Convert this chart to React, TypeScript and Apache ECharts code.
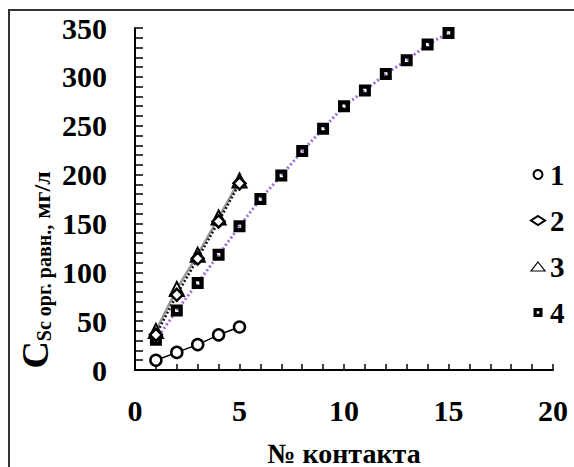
import React, { useEffect, useRef } from "react";
import * as echarts from "echarts";

const xValues = [1, 2, 3, 4, 5, 6, 7, 8, 9, 10, 11, 12, 13, 14, 15];
const series1 = [10, 18, 26, 36, 44];
const series2 = [36, 77, 114, 152, 191];
const series3 = [40, 83, 118, 156, 194];
const series4 = [31, 61, 89, 118, 147, 175, 199, 224, 247, 270, 286, 303, 317, 333, 345];
const legendNames = ["1", "2", "3", "4"];

const FONT = "'Liberation Serif', 'Times New Roman', serif";
const SQUARE = "path://M0,0 H10 V10 H0 Z M3.6,3.6 V6.4 H6.4 V3.6 Z";

function pairs(vals: number[]) {
  return vals.map((v, i) => [xValues[i], v]);
}

export default function App() {
  const ref = useRef<HTMLDivElement>(null);
  useEffect(() => {
    if (!ref.current) return;
    const chart = echarts.init(ref.current, null, { renderer: "svg" });
    chart.setOption({
      animation: false,
      backgroundColor: "#fff",
      grid: { left: 135, right: 21, top: 28, bottom: 97, containLabel: false, outerBoundsMode: "none" },
      graphic: [
        {
          type: "rect",
          shape: { x: 9, y: 10, width: 620, height: 520 },
          style: { fill: "none", stroke: "#333", lineWidth: 2 },
          silent: true,
        },
        {
          type: "text",
          x: 35,
          y: 270,
          rotation: Math.PI / 2,
          style: {
            text: "{c|C}{s|Sc орг. равн.,}{u| мг/л}",
            align: "center",
            verticalAlign: "middle",
            fill: "#000",
            rich: {
              c: { fontSize: 38, fontWeight: "bold", fontFamily: FONT, fill: "#000", verticalAlign: "bottom", lineHeight: 38 },
              s: { fontSize: 20, fontWeight: "bold", fontFamily: FONT, fill: "#000", verticalAlign: "bottom", lineHeight: 19 },
              u: { fontSize: 24, fontWeight: "bold", fontFamily: FONT, fill: "#000", verticalAlign: "bottom", lineHeight: 27 },
            },
          },
        },
      ],
      legend: {
        orient: "vertical",
        left: 525,
        top: 155,
        itemWidth: 14,
        itemHeight: 9,
        itemGap: 17,
        textStyle: { fontFamily: FONT, fontSize: 29, fontWeight: "bold", color: "#000" },
        data: [
          { name: "1", icon: "circle", itemStyle: { color: "#fff", borderColor: "#000", borderWidth: 2 } },
          { name: "2", icon: "diamond", itemStyle: { color: "#fff", borderColor: "#000", borderWidth: 2 } },
          { name: "3", icon: "triangle", itemStyle: { color: "#fff", borderColor: "#000", borderWidth: 1.2 } },
          { name: "4", icon: SQUARE, itemStyle: { color: "#000", borderWidth: 0 } },
        ],
      },
      xAxis: {
        type: "value",
        min: 0,
        max: 20,
        interval: 5,
        name: "№ контакта",
        nameLocation: "middle",
        nameGap: 72,
        nameTextStyle: { fontFamily: FONT, fontSize: 28, lineHeight: 22, fontWeight: "bold", color: "#000" },
        axisLine: { show: true, lineStyle: { color: "#000", width: 2 } },
        axisTick: { show: true, inside: true, length: 6, lineStyle: { color: "#000", width: 1.5 } },
        minorTick: { show: true, splitNumber: 5, length: 6, lineStyle: { color: "#000", width: 1.5 } },
        splitLine: { show: false },
        axisLabel: { margin: 25, fontFamily: FONT, fontSize: 30, fontWeight: "bold", color: "#000" },
      },
      yAxis: {
        type: "value",
        min: 0,
        max: 350,
        interval: 50,
        axisLine: { show: true, lineStyle: { color: "#000", width: 2 } },
        axisTick: { show: true, inside: true, length: 8, lineStyle: { color: "#000", width: 1.5 } },
        minorTick: { show: true, splitNumber: 5, length: 8, lineStyle: { color: "#000", width: 1.5 } },
        splitLine: { show: false },
        axisLabel: { margin: 28, fontFamily: FONT, fontSize: 30, fontWeight: "bold", color: "#000" },
      },
      series: [
        {
          name: legendNames[0],
          type: "line",
          data: pairs(series1),
          symbol: "circle",
          symbolSize: 11,
          itemStyle: { color: "#fff", borderColor: "#000", borderWidth: 2.5 },
          lineStyle: { color: "#000", width: 1.5, type: "solid" },
          z: 5,
        },
        {
          name: legendNames[2],
          type: "line",
          data: pairs(series3),
          symbol: "triangle",
          symbolSize: 14,
          itemStyle: { color: "#fff", borderColor: "#000", borderWidth: 2 },
          lineStyle: { color: "#999", width: 2.5, type: "solid" },
          z: 3,
        },
        {
          name: legendNames[1],
          type: "line",
          data: pairs(series2),
          symbol: "diamond",
          symbolSize: 12,
          itemStyle: { color: "#fff", borderColor: "#000", borderWidth: 2.5 },
          lineStyle: { color: "#111", width: 2.5, type: [2, 2] },
          z: 4,
        },
        {
          name: legendNames[3],
          type: "line",
          data: pairs(series4),
          symbol: SQUARE,
          symbolSize: 12,
          itemStyle: { color: "#000", borderWidth: 0 },
          lineStyle: { color: "#9b6fce", width: 3, type: [2, 2.5] },
          z: 3,
        },
      ],
    });
    return () => chart.dispose();
  }, []);
  return <div ref={ref} style={{ width: 574, height: 467, position: "absolute", left: 0, top: 0 }} />;
}
